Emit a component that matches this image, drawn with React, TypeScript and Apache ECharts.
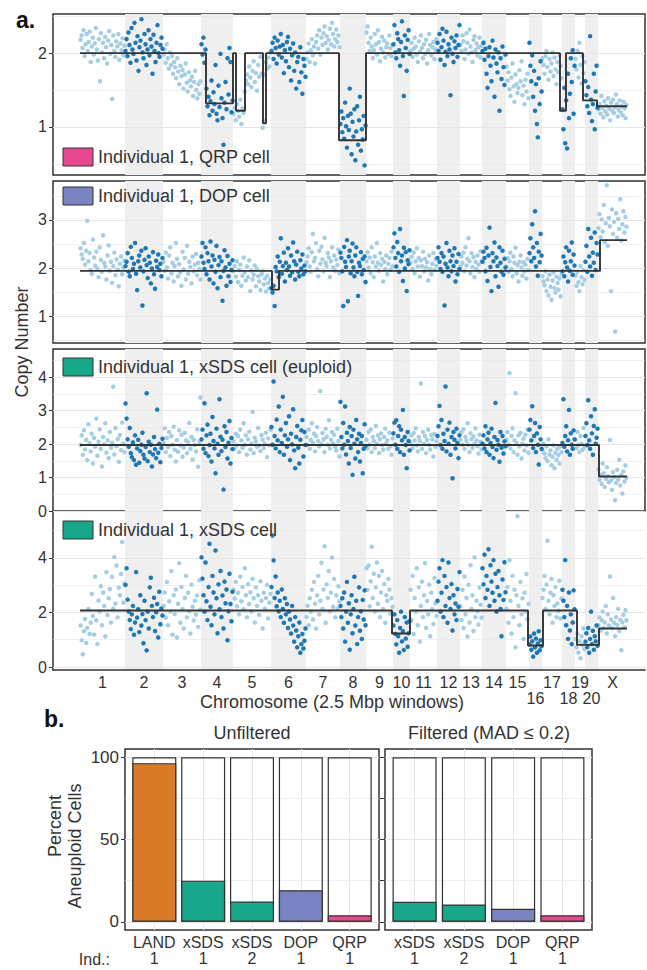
import React, { useEffect, useRef } from "react";
import * as echarts from "echarts";

// ---------------- DATA ----------------
const CHROMS = ["1","2","3","4","5","6","7","8","9","10","11","12","13","14","15","16","17","18","19","20","X"];
// number of 2.5 Mbp windows per chromosome
const CHROM_WINDOWS = [90,76,76,64,76,70,68,52,54,34,54,46,44,48,46,26,40,26,20,26,58];
const LOWER_ROW_LABELS = ["16","18","20"];

// copy number per window (value x100), one string per chromosome
const QRP_POINTS = [
  "218 224 207 231 196 212 226 203 215 229 188 209 221 198 213 234 205 190 219 162 227 201 214 193 222 208 186 217 230 199 211 138 224 203 195 216 209 226 191 213 204 220 197 210",
  "203 219 196 228 211 187 234 205 199 241 214 190 223 176 208 217 246 201 193 226 212 184 205 231 197 219 209 172 225 203 188 214 238 200 195 211 221 206",
  "198 205 187 212 193 179 201 184 196 172 188 181 166 193 175 158 183 169 177 152 171 186 160 148 174 163 155 168 142 161 176 150 139 158 145 162",
  "212 198 221 187 205 152 128 141 116 135 163 122 147 131 184 118 109 156 127 199 139 112 76 133 161 124 193 144 207 188 120 136",
  "118 126 109 131 122 114 137 104 125 119 148 163 171 158 182 167 154 176 189 161 173 149 184 168 195 172 99 108 171 188 179 194 182 201",
  "203 214 192 221 207 186 217 198 209 226 194 211 173 204 189 215 222 181 206 163 197 213 176 201 152 188 195 161 208 174 145 192 183 168",
  "192 201 213 188 204 219 197 209 186 215 224 206 231 198 221 211 227 236 214 223 205 218 233 212 241 226 209 219 232 215 224 208",
  "104 121 93 112 84 133 101 72 115 96 152 118 63 107 87 124 55 94 128 76 109 141 68 97 83 115 48 102",
  "228 236 214 203 221 209 193 204 226 212 198 231 215 189 206 222 201 217 194 208 213 199 224 207 196 211",
  "212 238 201 193 227 219 204 183 215 243 196 142 224 207 176 218 231 199",
  "203 214 195 206 221 209 198 188 216 202 224 207 193 212 199 218 186 204 226 211 197 208 215 192 205 219",
  "214 203 226 191 208 233 217 184 202 229 196 212 205 143 221 199 188 216 207 224 195 211 238",
  "211 203 224 216 192 205 227 214 199 232 209 201 188 218 223 204 213 197 208 221 194 210",
  "203 214 191 206 172 153 196 208 183 162 217 194 141 205 186 174 201 122 193 165 209 181 157 198",
  "182 163 174 151 142 167 186 155 134 171 158 146 153 177 162 189 143 156 131 164 148 172 139",
  "214 183 162 197 141 176 122 158 104 86 166 131 189 148",
  "193 184 172 196 203 181 164 192 175 186 201 169 194 178 158 188 174 197 183 166",
  "124 97 153 78 136 71 172 112 145 193 161 204 118 183",
  "192 178 203 167 214 184 159 196 173 188",
  "162 143 128 154 119 223 137 108 131 172 97 148 183 126",
  "124 131 118 142 126 113 135 121 129 117 139 125 109 133 122 137 119 127 144 131 114 123 136 120 128 116 134 125 112 130",
];
const DOP_POINTS = [
  "241 228 219 252 207 236 298 214 231 196 188 259 222 205 234 199 181 243 217 192 268 211 203 176 226 247 194 213 169 204 232 185 218 197 162 209 224 187 201 215",
  "204 213 231 192 183 244 221 198 209 252 188 154 214 226 201 236 122 193 217 241 206 179 224 211 168 199 233 187 157 215 202 228 196 209 183 221",
  "213 194 232 201 178 226 243 189 211 172 204 252 219 183 208 191 163 234 197 221 176 246 188 213 202 168 224 193 207 229 185 211 198 176",
  "224 252 211 198 243 187 231 214 176 255 203 226 168 217 192 246 158 206 223 181 214 132 194 237 201 163 225 183 209 171 196 216",
  "193 204 182 214 171 196 207 163 184 222 191 174 203 181 216 152 194 176 186 205 162 198 183 172 154 187 193 166 178 151 184 169 158 176",
  "158 149 163 121 202 193 224 181 213 262 188 204 232 172 211 196 241 203 184 226 191 253 214 176 207 234 192 183 216 199 228 187 205 193",
  "212 224 241 203 192 233 271 214 221 252 198 183 236 209 244 218 193 263 211 204 231 222 181 214 243 201 226 194 217 206 238 189",
  "232 221 193 121 244 213 202 258 131 224 236 189 214 251 201 183 226 243 192 142 211 204 233 187 219 196 224 171",
  "214 233 201 222 189 243 212 181 224 203 252 211 194 231 206 219 172 213 198 226 187 209 221 196 234 203",
  "243 272 221 203 254 231 192 281 214 226 173 242 199 233 152 216 208 237",
  "211 223 198 232 189 214 241 203 221 182 216 204 234 193 219 201 212 174 226 198 187 209 231 196 218 205",
  "221 243 213 198 231 192 224 122 209 252 201 183 236 214 193 226 204 241 172 213 187 229 198",
  "203 224 211 232 193 243 205 219 262 214 189 231 202 223 181 213 198 226 207 192 235 214",
  "213 234 221 193 242 173 226 284 202 152 231 214 253 183 222 204 161 243 211 192 236 186 219 201",
  "203 221 192 214 232 198 183 224 211 242 189 206 172 213 226 201 184 212 193 207 178 219 196",
  "231 262 214 291 243 221 318 203 252 184 234 212 271 226",
  "183 172 164 193 152 176 143 186 161 134 174 191 158 149 182 169 155 178 141 187",
  "193 224 183 212 243 201 172 236 194 214 253 186 228 205",
  "184 163 192 171 152 204 181 166 196 175",
  "213 246 192 281 224 203 263 184 232 211 274 196 252 228",
  "283 312 264 301 276 331 254 293 372 246 304 287 152 322 271 296 68 314 263 302 281 343 257 291 318 274 306 286",
];
const XSDS_EUPLOID_POINTS = [
  "197 226 168 241 184 213 152 259 203 178 231 142 218 192 276 165 207 244 186 133 221 199 262 174 211 158 236 189 204 371 169 248 193 215 147 227 182 264 201 176",
  "321 276 214 192 248 173 161 205 152 226 138 187 213 144 179 198 234 168 157 191 352 149 207 176 198 133 169 221 185 158 303 174 201 146 188 216",
  "203 247 176 218 191 236 164 224 198 252 183 148 212 177 241 196 228 162 189 234 211 173 207 263 186 221 154 213 197 178 244 132 206 339",
  "214 243 186 322 173 226 258 164 197 231 148 281 209 187 113 246 201 168 334 222 179 213 64 253 191 236 157 204 269 142 218 185",
  "208 187 231 196 224 176 243 211 189 262 198 226 168 214 237 184 201 296 173 219 208 192 248 196 179 227 213 188 201 234 161 217 196 243",
  "251 198 387 224 187 273 211 312 176 243 203 341 168 226 263 192 214 283 152 231 199 304 181 128 221 254 189 142 213 241 272 163 236 197",
  "221 198 243 186 212 262 203 231 178 224 251 209 193 358 201 233 214 176 246 222 198 271 187 213 236 202 228 191 181 246 209 163",
  "326 221 187 263 198 312 169 234 209 142 251 188 224 108 243 201 157 272 214 176 231 148 203 224 113 186 259 194",
  "213 187 236 198 243 176 221 209 188 254 201 226 173 214 232 197 183 221 246 202 211 186 234 193 168 217",
  "232 264 198 271 186 224 253 176 243 211 302 168 221 197 128 236 209 181",
  "204 226 188 233 211 247 196 178 221 209 381 186 236 201 224 173 212 243 198 184 227 214 163 231 192 208",
  "224 253 314 197 272 186 231 209 372 178 243 201 264 168 221 98 236 213 187 246 203 158 226",
  "213 236 198 244 186 221 209 262 197 176 232 214 188 223 201 247 211 193 172 228 206 184",
  "201 226 187 253 176 214 234 168 203 246 191 158 221 323 183 212 198 147 236 189 224 172 208 193",
  "213 236 198 412 187 224 247 176 211 352 203 168 226 193 234 157 201 216 181 228 196 243 174",
  "243 272 211 313 188 224 263 176 232 198 139 251 214 186",
  "183 201 172 158 193 149 214 168 181 137 162 196 128 174 153 186 167 142 193 176",
  "203 334 192 224 253 178 211 302 168 232 198 186 241 214",
  "213 188 236 197 176 224 201 183 248 192",
  "224 262 197 331 211 186 283 232 168 254 304 201 219 246",
  "124 93 108 81 142 113 72 96 131 104 86 212 91 63 116 101 32 84 123 94 153 76 107 52 118 88 136 99",
];
const XSDS_POINTS = [
  "152 98 47 131 176 88 143 213 121 162 268 187 119 332 171 84 244 203 296 153 273 224 112 348 191 252 286 163 331 214 403 233 372 182 291 263 341 458 236 307",
  "301 362 247 203 172 139 193 224 118 163 348 181 212 128 263 152 194 87 243 172 61 203 141 292 327 224 183 254 132 201 231 108 276 157 214 189",
  "224 273 181 312 153 241 203 352 118 263 194 284 108 232 381 162 293 213 141 253 334 182 272 204 123 302 221 171 243 192 262 147 318 211",
  "402 324 263 203 383 241 172 293 452 221 153 334 273 193 427 252 124 303 212 352 183 262 141 313 234 284 98 204 342 231 168 276",
  "283 251 312 223 272 193 331 241 293 212 362 263 182 304 231 274 203 323 252 163 292 224 263 191 314 243 141 272 214 253 301 178 236 268",
  "293 482 391 253 332 223 273 204 243 183 284 213 162 252 193 231 143 203 174 123 224 152 93 183 134 72 113 163 52 84 121 68 96 141",
  "183 224 153 252 203 283 174 312 232 141 263 334 193 243 382 213 284 443 162 303 253 352 204 272 401 221 323 182 263 213 296 241",
  "224 183 252 141 273 93 203 312 162 234 63 193 263 124 213 331 152 243 84 183 292 133 204 103 246 174 281 153",
  "362 283 372 223 314 441 253 342 203 292 383 232 334 183 273 352 213 304 162 263 243 323 284 196 253 221",
  "152 193 121 83 172 113 52 143 203 94 131 62 183 104 163 74 124 168",
  "283 172 334 121 253 203 362 153 292 93 224 313 183 263 381 143 242 193 302 113 272 213 158 326 234 187",
  "243 313 362 203 272 392 183 334 224 293 162 383 253 213 304 134 263 193 233 172 286 221 348",
  "223 172 283 143 332 193 253 112 302 163 373 213 263 132 402 183 243 204 156 291 228 181",
  "362 303 412 253 334 283 432 224 373 313 272 392 243 342 203 293 352 263 213 113 321 246 384 274",
  "213 293 162 392 243 123 334 183 283 72 263 553 224 153 312 193 252 103 272 203 341 176 232",
  "83 112 63 94 38 123 72 104 52 86 131 61 98 76",
  "253 283 334 213 302 463 243 193 272 323 162 263 224 293 183 233 206 316 178 251",
  "283 243 183 392 153 224 103 273 134 193 84 163 281 212",
  "103 72 123 53 94 32 113 82 141 66",
  "93 124 73 143 52 103 203 84 133 63 113 94 152 78",
  "153 182 134 172 203 143 163 224 123 193 152 332 174 143 253 162 113 183 154 213 132 173 62 164 191 146 208 171",
];

// segmented copy number: [startWindow, endWindow, copyNumber]
const QRP_SEGMENTS = [[0,252,2.0],[252,306,1.32],[306,312,2.0],[312,330,1.22],[330,366,2.0],[366,372,1.05],[372,518,2.0],[518,572,0.82],[572,960,2.0],[960,972,1.22],[972,1006,2.0],[1006,1034,1.36],[1034,1094,1.28]];
const DOP_SEGMENTS = [[0,384,1.94],[384,398,1.55],[398,1040,1.94],[1040,1094,2.58]];
const XSDS_EUPLOID_SEGMENTS = [[0,1038,1.97],[1038,1094,1.03]];
const XSDS_SEGMENTS = [[0,624,2.07],[624,660,1.23],[660,896,2.07],[896,926,0.79],[926,994,2.07],[994,1038,0.81],[1038,1094,1.41]];

const QRP_TICKS = [1, 2];
const DOP_TICKS = [1, 2, 3];
const XSDS_EUPLOID_TICKS = [0, 1, 2, 3, 4];
const XSDS_TICKS = [0, 2, 4];

// panel b
const UNFILTERED_METHODS = ["LAND", "xSDS", "xSDS", "DOP", "QRP"];
const UNFILTERED_INDIVIDUALS = ["1", "1", "2", "1", "1"];
const UNFILTERED_PERCENT = [96.4, 25.0, 12.3, 19.2, 4.0];
const FILTERED_METHODS = ["xSDS", "xSDS", "DOP", "QRP"];
const FILTERED_INDIVIDUALS = ["1", "2", "1", "1"];
const FILTERED_PERCENT = [12.1, 10.5, 7.9, 4.0];
const PERCENT_TICKS = [0, 50, 100];
const PERCENT_MINOR_TICKS = [0, 25, 50, 75, 100];

// ---------------- STYLE ----------------
const FONT = '"Liberation Sans", Arial, Helvetica, sans-serif';
const TEXT = "#333333";
const BORDER = "#333333";
const LIGHT_PT = "#a6cee3";
const DARK_PT = "#1f78b4";
const BAND = "#efefef";
const GRID_MAJOR = "#e6e6e6";
const METHOD_COLORS: Record<string, string> = {
  LAND: "#d97b29",
  xSDS: "#17a88a",
  DOP: "#7a84c3",
  QRP: "#e8488f",
};

const PANELS = [
  { points: QRP_POINTS, segments: QRP_SEGMENTS, ticks: QRP_TICKS, min: 0.35, max: 2.53, top: 14, height: 161, box: true, legend: "Individual 1, QRP cell", color: METHOD_COLORS.QRP, legendY: 148 },
  { points: DOP_POINTS, segments: DOP_SEGMENTS, ticks: DOP_TICKS, min: 0.44, max: 3.81, top: 181, height: 162, box: true, legend: "Individual 1, DOP cell", color: METHOD_COLORS.DOP, legendY: 187 },
  { points: XSDS_EUPLOID_POINTS, segments: XSDS_EUPLOID_SEGMENTS, ticks: XSDS_EUPLOID_TICKS, min: 0, max: 4.84, top: 349, height: 162, box: true, legend: "Individual 1, xSDS cell (euploid)", color: METHOD_COLORS.xSDS, legendY: 358 },
  { points: XSDS_POINTS, segments: XSDS_SEGMENTS, ticks: XSDS_TICKS, min: -0.11, max: 5.72, top: 511, height: 159, box: false, legend: "Individual 1, xSDS cell", color: METHOD_COLORS.xSDS, legendY: 521 },
];

function buildOption() {
  const starts: number[] = [];
  let acc = 0;
  CHROM_WINDOWS.forEach((n) => { starts.push(acc); acc += n; });
  const centers = CHROM_WINDOWS.map((n, i) => starts[i] + n / 2);
  const bands = CHROM_WINDOWS.map((n, i) => [starts[i], starts[i] + n]).filter((_, i) => i % 2 === 1);

  const grids: any[] = [];
  const xAxes: any[] = [];
  const yAxes: any[] = [];
  const series: any[] = [];
  const graphics: any[] = [];

  const label16 = { fontFamily: FONT, fontSize: 16, color: TEXT };

  PANELS.forEach((p, i) => {
    grids.push({
      left: 53, width: 592, top: p.top, height: p.height,
      show: p.box, borderColor: BORDER, borderWidth: 1.5, backgroundColor: "transparent",
      containLabel: false, outerBoundsMode: "none",
    });
    const isLast = i === PANELS.length - 1;
    xAxes.push({
      gridIndex: i, type: "value", min: -54, max: 1130,
      axisLine: { show: isLast, onZero: false, lineStyle: { color: BORDER, width: 1.5 } },
      axisTick: { show: false },
      splitLine: { show: false },
      axisLabel: isLast
        ? {
            ...label16, margin: 4, lineHeight: 16,
            customValues: centers,
            formatter: (v: number) => {
              const idx = centers.findIndex((c) => Math.abs(c - v) < 0.01);
              const name = idx >= 0 ? CHROMS[idx] : "";
              return LOWER_ROW_LABELS.includes(name) ? "\n" + name : name;
            },
          }
        : { show: false },
    });
    yAxes.push({
      gridIndex: i, type: "value", min: p.min, max: p.max,
      axisLine: { show: isLast, onZero: false, lineStyle: { color: BORDER, width: 1.5 } },
      axisTick: { show: true, customValues: p.ticks, length: 4, lineStyle: { color: BORDER, width: 1 } },
      axisLabel: { ...label16, margin: 6, customValues: p.ticks },
      splitLine: { show: false },
    });

    const step = p.ticks.length > 1 ? p.ticks[1] - p.ticks[0] : 1;
    const minors: number[] = [];
    for (let t = p.ticks[0] - step / 2; t <= p.max; t += step) if (t >= p.min) minors.push(t);

    // chromosome bands + grid lines
    series.push({
      type: "custom", xAxisIndex: i, yAxisIndex: i, z: 0, silent: true,
      encode: { x: [0, 1], y: 2 },
      data: bands.map((b) => [b[0], b[1], p.min]),
      renderItem: (params: any, api: any) => {
        const x0 = api.coord([api.value(0), p.min])[0];
        const x1 = api.coord([api.value(1), p.min])[0];
        const cs = params.coordSys;
        return { type: "rect", shape: { x: x0, y: cs.y, width: x1 - x0, height: cs.height }, style: { fill: BAND } };
      },
      markLine: {
        silent: true, symbol: "none", z: 1, label: { show: false },
        data: [
          ...p.ticks.map((v) => ({ yAxis: v, lineStyle: { color: GRID_MAJOR, width: 1, type: "solid" } })),
          ...minors.map((v) => ({ yAxis: v, lineStyle: { color: GRID_MAJOR, width: 0.6, type: "solid" } })),
        ],
      },
    });

    const light: number[][] = [];
    const dark: number[][] = [];
    p.points.forEach((s, c) => {
      const vals = s.trim().split(/\s+/).map((v) => Number(v) / 100);
      const n = vals.length;
      vals.forEach((v, k) => {
        const pt = [starts[c] + ((k + 0.5) * CHROM_WINDOWS[c]) / n, v];
        (c % 2 === 1 ? dark : light).push(pt);
      });
    });
    series.push({ type: "scatter", xAxisIndex: i, yAxisIndex: i, z: 2, symbolSize: 4.5, itemStyle: { color: LIGHT_PT, opacity: 1 }, data: light, silent: true });
    series.push({ type: "scatter", xAxisIndex: i, yAxisIndex: i, z: 3, symbolSize: 4.5, itemStyle: { color: DARK_PT, opacity: 1 }, data: dark, silent: true });

    const stepData: number[][] = [];
    p.segments.forEach((sg) => { stepData.push([sg[0], sg[2]]); stepData.push([sg[1], sg[2]]); });
    series.push({
      type: "line", xAxisIndex: i, yAxisIndex: i, z: 4, data: stepData,
      showSymbol: false, symbol: "none", silent: true,
      lineStyle: { color: "#333333", width: 1.9 },
    });

    graphics.push({
      type: "rect", shape: { x: 63, y: p.legendY, width: 30, height: 18 },
      style: { fill: p.color, stroke: "#333333", lineWidth: 1 }, z: 100,
    });
    graphics.push({
      type: "text", x: 98, y: p.legendY + 9, z: 100,
      style: { text: p.legend, font: `18px ${FONT}`, fill: TEXT, textAlign: "left", textVerticalAlign: "middle", align: "left", verticalAlign: "middle" },
    });
  });

  // ---- panel b ----
  const facets = [
    { methods: UNFILTERED_METHODS, inds: UNFILTERED_INDIVIDUALS, values: UNFILTERED_PERCENT, left: 125, width: 254, first: true },
    { methods: FILTERED_METHODS, inds: FILTERED_INDIVIDUALS, values: FILTERED_PERCENT, left: 385, width: 207, first: false },
  ];
  facets.forEach((f, j) => {
    const gi = PANELS.length + j;
    grids.push({
      left: f.left, width: f.width, top: 749, height: 181,
      show: true, borderColor: BORDER, borderWidth: 1.5, backgroundColor: "transparent",
      containLabel: false, outerBoundsMode: "none",
    });
    const idx = f.methods.map((_, k) => k);
    xAxes.push({
      gridIndex: gi, type: "value", min: -0.6, max: f.methods.length - 0.4,
      axisLine: { show: false, onZero: false },
      axisTick: { show: false },
      splitLine: { show: false },
      axisLabel: {
        ...label16, fontSize: 16, margin: 4, lineHeight: 16, customValues: idx,
        formatter: (v: number) => { const k = Math.round(v); return `${f.methods[k]}\n${f.inds[k]}`; },
      },
    });
    yAxes.push({
      gridIndex: gi, type: "value", min: -5, max: 105,
      axisLine: { show: false, onZero: false },
      axisTick: { show: true, customValues: f.first ? PERCENT_TICKS : PERCENT_MINOR_TICKS, length: f.first ? 4 : 5, lineStyle: { color: BORDER, width: 1 } },
      axisLabel: f.first ? { ...label16, fontSize: 17, margin: 6, customValues: PERCENT_TICKS } : { show: false },
      splitLine: { show: false },
    });
    series.push({
      type: "bar", xAxisIndex: gi, yAxisIndex: gi, z: 2, barWidth: 44, silent: true,
      data: idx.map((k) => [k, 100]),
      itemStyle: { color: "rgba(0,0,0,0)", borderColor: "#333333", borderWidth: 1.2 },
      markLine: {
        silent: true, symbol: "none", z: 1, label: { show: false },
        data: [
          ...PERCENT_TICKS.map((v) => ({ yAxis: v, lineStyle: { color: GRID_MAJOR, width: 1, type: "solid" } })),
          ...[25, 75].map((v) => ({ yAxis: v, lineStyle: { color: GRID_MAJOR, width: 0.6, type: "solid" } })),
          ...idx.map((k) => ({ xAxis: k, lineStyle: { color: GRID_MAJOR, width: 1, type: "solid" } })),
        ],
      },
    });
    series.push({
      type: "bar", xAxisIndex: gi, yAxisIndex: gi, z: 3, barWidth: 44, barGap: "-100%", silent: true,
      data: idx.map((k) => ({ value: [k, f.values[k]], itemStyle: { color: METHOD_COLORS[f.methods[k]] } })),
      itemStyle: { borderColor: "#333333", borderWidth: 1.2 },
    });
  });

  const txt = (text: string, x: number, y: number, size: number, extra: any = {}) => ({
    type: "text", x, y, z: 100, rotation: extra.rotation || 0,
    style: {
      text, font: `${extra.bold ? "bold " : ""}${size}px ${FONT}`, fill: extra.fill || TEXT,
      textAlign: extra.align || "center", align: extra.align || "center",
      textVerticalAlign: "middle", verticalAlign: "middle",
    },
  });
  graphics.push(txt("a.", 16, 20, 23, { bold: true, align: "left", fill: "#111" }));
  graphics.push(txt("b.", 44, 719, 23, { bold: true, align: "left", fill: "#111" }));
  graphics.push(txt("Copy Number", 22, 342, 18, { rotation: Math.PI / 2 }));
  graphics.push(txt("Chromosome (2.5 Mbp windows)", 332, 702, 18));
  graphics.push(txt("Unfiltered", 252, 733, 18));
  graphics.push(txt("Filtered (MAD \u2264 0.2)", 489, 733, 18));
  graphics.push(txt("Percent", 55, 826, 18, { rotation: Math.PI / 2 }));
  graphics.push(txt("Aneuploid Cells", 75, 846, 18, { rotation: Math.PI / 2 }));
  graphics.push(txt("Ind.:", 110, 959, 16, { align: "right" }));

  return {
    animation: false,
    backgroundColor: "#ffffff",
    textStyle: { fontFamily: FONT },
    grid: grids,
    xAxis: xAxes,
    yAxis: yAxes,
    series,
    graphic: { elements: graphics },
  };
}

export default function App() {
  const ref = useRef<HTMLDivElement>(null);
  useEffect(() => {
    if (!ref.current) return;
    const chart = echarts.init(ref.current, null, { renderer: "svg" });
    chart.setOption(buildOption() as any);
    return () => chart.dispose();
  }, []);
  return <div ref={ref} style={{ position: "absolute", left: 0, top: 0, width: 647, height: 970 }} />;
}
